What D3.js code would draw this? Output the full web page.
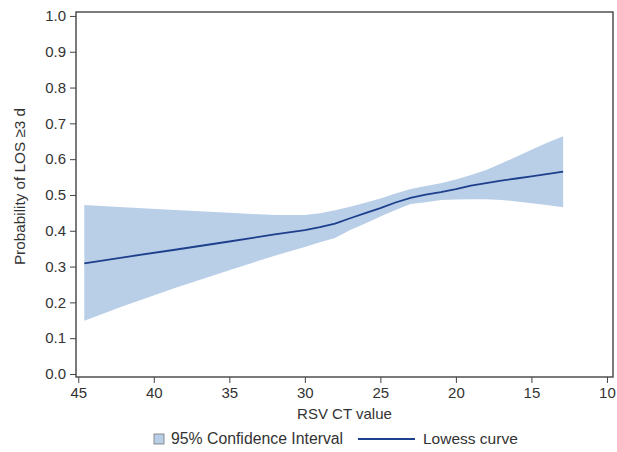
<!DOCTYPE html>
<html>
<head>
<meta charset="utf-8">
<script src="https://cdn.jsdelivr.net/npm/d3@7"></script>
<style>
  body { margin: 0; background: #fff; }
  svg { display: block; font-family: "Liberation Sans", Arial, sans-serif; }
  .axis text { font-size: 15px; fill: #333; }
  .axis path, .axis line { stroke: #444; }
</style>
</head>
<body>
<svg id="svg" width="617" height="452"></svg>
<script>
// lowess fit
const ctValues = [44.6, 42, 38.6, 35, 32, 30, 29, 28, 27, 26, 25, 24, 23, 22, 21, 20, 19, 18, 17, 16, 15, 14, 12.9];
const lowess   = [0.309, 0.326, 0.347, 0.370, 0.390, 0.402, 0.410, 0.420, 0.435, 0.449, 0.463, 0.479, 0.492, 0.501, 0.508, 0.516, 0.526, 0.533, 0.540, 0.546, 0.552, 0.558, 0.565];
const upperCI  = [0.472, 0.466, 0.458, 0.450, 0.444, 0.444, 0.449, 0.457, 0.467, 0.478, 0.490, 0.504, 0.517, 0.525, 0.533, 0.543, 0.556, 0.570, 0.588, 0.607, 0.626, 0.645, 0.664];
const lowerCI  = [0.149, 0.190, 0.240, 0.290, 0.330, 0.355, 0.368, 0.380, 0.402, 0.420, 0.440, 0.458, 0.475, 0.480, 0.486, 0.487, 0.488, 0.488, 0.486, 0.482, 0.477, 0.472, 0.466];

const xTicks = [45, 40, 35, 30, 25, 20, 15, 10];
const yTicks = [0, 0.1, 0.2, 0.3, 0.4, 0.5, 0.6, 0.7, 0.8, 0.9, 1.0];
const legendItems = ["95% Confidence Interval", "Lowess curve"];

const bandColor = "#b9cfe8";
const lineColor = "#1d3f8c";

const svg = d3.select("#svg");
const x = d3.scaleLinear().domain([45.15, 9.6]).range([76, 613]);
const y = d3.scaleLinear().domain([-0.0084, 1.011]).range([377, 12]);

const rows = ctValues.map((c, i) => ({ ct: c, fit: lowess[i], lo: lowerCI[i], hi: upperCI[i] }));

// confidence band
svg.append("path")
  .datum(rows)
  .attr("fill", bandColor)
  .attr("d", d3.area().x(d => x(d.ct)).y0(d => y(d.lo)).y1(d => y(d.hi)));

// lowess curve
svg.append("path")
  .datum(rows)
  .attr("fill", "none")
  .attr("stroke", lineColor)
  .attr("stroke-width", 1.8)
  .attr("d", d3.line().x(d => x(d.ct)).y(d => y(d.fit)));

// frame
svg.append("rect")
  .attr("x", x.range()[0]).attr("y", y.range()[1])
  .attr("width", x.range()[1] - x.range()[0])
  .attr("height", y.range()[0] - y.range()[1])
  .attr("fill", "none").attr("stroke", "#444").attr("stroke-width", 1.4);

svg.append("g")
  .attr("class", "axis")
  .attr("transform", `translate(0,${y.range()[0]})`)
  .call(d3.axisBottom(x).tickValues(xTicks).tickSize(6).tickPadding(4).tickFormat(d3.format("d")))
  .call(g => g.select(".domain").remove());

svg.append("g")
  .attr("class", "axis")
  .attr("transform", `translate(${x.range()[0]},0)`)
  .call(d3.axisLeft(y).tickValues(yTicks).tickSize(6).tickPadding(4).tickFormat(d3.format(".1f")))
  .call(g => g.select(".domain").remove());

svg.append("text")
  .attr("x", (x.range()[0] + x.range()[1]) / 2).attr("y", 419)
  .attr("text-anchor", "middle").attr("font-size", 15).attr("fill", "#333")
  .text("RSV CT value");

svg.append("text")
  .attr("transform", "translate(25,186.5) rotate(-90)")
  .attr("text-anchor", "middle").attr("font-size", 15.3).attr("fill", "#333")
  .text("Probability of LOS \u22653 d");

// legend
const leg = svg.append("g").attr("transform", "translate(0,439)");
leg.append("rect").attr("x", 154).attr("y", -5).attr("width", 10).attr("height", 10)
  .attr("fill", bandColor).attr("stroke", "#777").attr("stroke-width", 0.8);
leg.append("text").attr("x", 171).attr("y", 5).attr("font-size", 15.8).attr("fill", "#333").text(legendItems[0]);
leg.append("line").attr("x1", 358).attr("x2", 415).attr("y1", 0).attr("y2", 0)
  .attr("stroke", lineColor).attr("stroke-width", 1.8);
leg.append("text").attr("x", 423).attr("y", 5).attr("font-size", 15.5).attr("fill", "#333").text(legendItems[1]);
</script>
</body>
</html>
